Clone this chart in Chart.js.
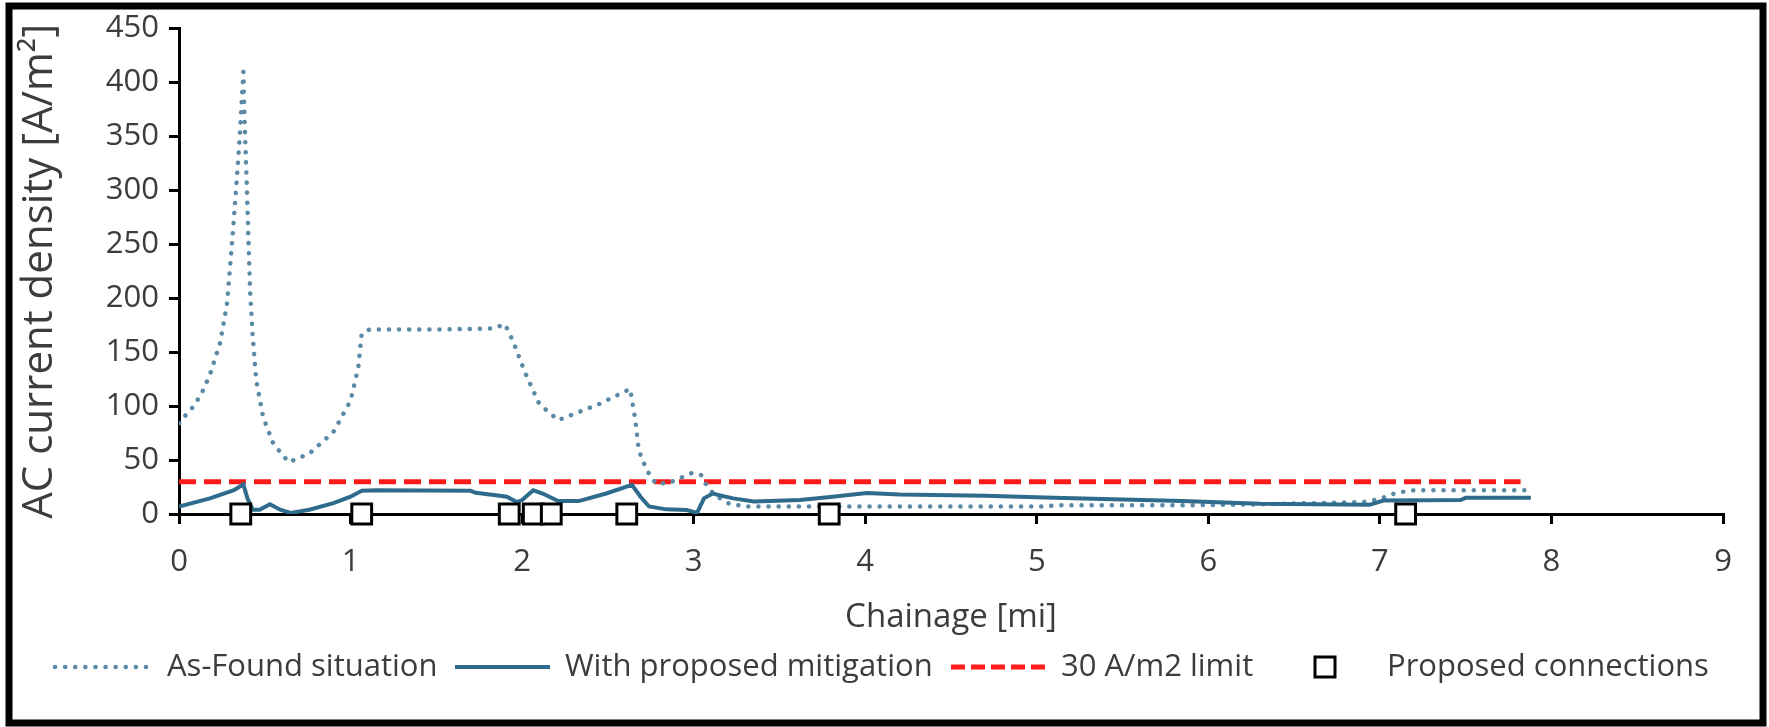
<!DOCTYPE html>
<html>
<head>
<meta charset="utf-8">
<script src="https://cdn.jsdelivr.net/npm/chart.js@4.4.1/dist/chart.umd.min.js"></script>
<style>
  body { margin: 0; background: #fff; }
  canvas { display: block; }
</style>
</head>
<body>
<canvas id="myChart" width="1769" height="727"></canvas>
<script>
// As-Found situation (dotted)
const asFoundX = [0, 0.03, 0.08, 0.13, 0.18, 0.24, 0.28, 0.31, 0.335, 0.355, 0.375, 0.385, 0.395, 0.405, 0.415, 0.43, 0.45, 0.49, 0.55, 0.64,
  0.76, 0.9, 1.0, 1.045, 1.065, 1.11, 1.5, 1.83, 1.9, 1.95, 2.02, 2.1, 2.21, 2.45, 2.63, 2.66, 2.68, 2.725, 2.78, 2.86,
  2.99, 3.045, 3.07, 3.12, 3.2, 3.3, 4.5, 5.06, 5.1, 5.85, 6.3, 6.9, 7.0, 7.1, 7.2, 7.85];
const asFoundY = [84, 90, 99, 111, 129, 159, 195, 253, 306, 352, 410, 352, 306, 253, 205, 164, 124, 90, 65, 48,
  56, 76, 105, 136, 167, 171, 171, 172, 176, 159, 130, 102, 87, 102, 116, 87, 59, 41, 28, 29,
  38, 36, 28, 18, 10, 7, 7, 7, 8, 8, 9, 11, 14, 20, 22, 22];

// With proposed mitigation (solid)
const mitigationX = [0, 0.18, 0.32, 0.375, 0.4, 0.43, 0.47, 0.53, 0.59, 0.65, 0.76, 0.9, 1.0, 1.065, 1.15, 1.7, 1.73, 1.87, 1.91, 1.97,
  2.0, 2.065, 2.12, 2.21, 2.33, 2.49, 2.64, 2.69, 2.74, 2.84, 2.96, 3.02, 3.06, 3.11, 3.23, 3.35, 3.62, 3.81, 4.01, 4.2,
  4.7, 5.1, 5.5, 5.85, 6.3, 6.94, 7.02, 7.47, 7.5, 7.88];
const mitigationY = [7, 14.5, 22, 27.5, 14, 4, 4, 9, 4, 1, 4, 10, 16, 21.5, 22, 21.5, 19.7, 17, 16, 11,
  13, 22, 19, 12, 12, 19, 27, 16, 7, 4.3, 3.7, 1, 14.5, 19, 14.5, 11.7, 13, 16, 19.5, 18,
  17, 15, 13.5, 12, 9.5, 8.5, 12.5, 13, 15, 15];

// 30 A/m2 limit
const limitX = [0, 7.82];
const limitY = [30, 30];

// Proposed connections
const connectionX = [0.36, 1.065, 1.925, 2.065, 2.17, 2.61, 3.79, 7.15];
const connectionY = [0, 0, 0, 0, 0, 0, 0, 0];

const legendLabels = ["As-Found situation", "With proposed mitigation", "30 A/m2 limit", "Proposed connections"];

const toPoints = (xs, ys) => xs.map((x, i) => ({ x: x, y: ys[i] }));

const textColor = "#3c3c3c";
const dotColor = "#5a8aa6";
const solidColor = "#2f6b8c";
const redColor = "#ff1a1a";

const frame = {
  id: "frame",
  afterDraw(chart) {
    const c = chart.ctx;
    c.save();
    c.strokeStyle = "#000";
    c.lineWidth = 7;
    c.strokeRect(9, 6, 1754, 717);
    c.restore();
  },
};

const customLegend = {
  id: "customLegend",
  afterDraw(chart) {
    const c = chart.ctx;
    const y = 667;
    c.save();
    c.font = "31px 'Open Sans'";
    c.fillStyle = textColor;
    c.textBaseline = "middle";

    // dotted
    c.strokeStyle = dotColor;
    c.lineWidth = 4.5;
    c.lineCap = "round";
    c.setLineDash([0.1, 10]);
    c.beginPath(); c.moveTo(55, y); c.lineTo(147, y); c.stroke();
    c.fillText(legendLabels[0], 167, y);

    // solid
    c.setLineDash([]);
    c.lineCap = "butt";
    c.lineWidth = 4;
    c.strokeStyle = solidColor;
    c.beginPath(); c.moveTo(455, y); c.lineTo(550, y); c.stroke();
    c.fillText(legendLabels[1], 565, y);

    // dashed
    c.strokeStyle = redColor;
    c.lineWidth = 5;
    c.setLineDash([14, 6]);
    c.beginPath(); c.moveTo(951, y); c.lineTo(1050, y); c.stroke();
    c.fillText(legendLabels[2], 1061, y);

    // square
    c.setLineDash([]);
    c.strokeStyle = "#000";
    c.lineWidth = 3;
    c.fillStyle = "#fff";
    c.fillRect(1315, y - 10, 20, 20);
    c.strokeRect(1315, y - 10, 20, 20);
    c.fillStyle = textColor;
    c.fillText(legendLabels[3], 1387, y);
    c.restore();
  },
};

const tickFont = { family: "Open Sans", size: 31 };

const chart = new Chart(document.getElementById("myChart").getContext("2d"), {
  type: "line",
  data: {
    datasets: [
      {
        label: legendLabels[3],
        data: toPoints(connectionX, connectionY),
        showLine: false,
        pointStyle: "rect",
        pointRadius: 14,
        pointBorderWidth: 3,
        pointBackgroundColor: "#fff",
        pointBorderColor: "#000",
        clip: false,
        order: 0,
      },
      {
        label: legendLabels[1],
        data: toPoints(mitigationX, mitigationY),
        borderColor: solidColor,
        borderWidth: 4,
        pointRadius: 0,
        tension: 0,
        order: 1,
      },
      {
        label: legendLabels[0],
        data: toPoints(asFoundX, asFoundY),
        borderColor: dotColor,
        borderWidth: 4.5,
        borderDash: [0.1, 10],
        borderCapStyle: "round",
        pointRadius: 0,
        tension: 0,
        order: 2,
      },
      {
        label: legendLabels[2],
        data: toPoints(limitX, limitY),
        borderColor: redColor,
        borderWidth: 5,
        borderDash: [17, 8],
        pointRadius: 0,
        order: 3,
      },
    ],
  },
  options: {
    responsive: false,
    animation: false,
    layout: { padding: { left: 0, right: 46, top: 27, bottom: 93 }, autoPadding: false },
    plugins: {
      legend: { display: false },
      tooltip: { enabled: false },
    },
    scales: {
      x: {
        type: "linear",
        min: 0,
        max: 9,
        ticks: { stepSize: 1, padding: 20, color: textColor, font: tickFont },
        grid: { drawOnChartArea: false, tickLength: 10, color: "#000", lineWidth: 3 },
        border: { color: "#000", width: 3 },
        title: {
          display: true,
          text: "Chainage [mi]",
          color: textColor,
          font: { family: "Open Sans", size: 33, lineHeight: 1 },
          padding: { top: 0, bottom: 0 },
        },
        afterFit: (scale) => { scale.height = 120; },
      },
      y: {
        min: 0,
        max: 450,
        ticks: { stepSize: 50, padding: 10, color: textColor, font: tickFont },
        grid: { drawOnChartArea: false, tickLength: 10, color: "#000", lineWidth: 3 },
        border: { color: "#000", width: 3 },
        title: {
          display: true,
          text: "AC current density [A/m²]",
          color: textColor,
          font: { family: "Open Sans", size: 42, lineHeight: 1 },
          padding: { top: 19, bottom: 0 },
        },
        afterFit: (scale) => { scale.width = 179; },
      },
    },
  },
  plugins: [customLegend, frame],
});
</script>
</body>
</html>
